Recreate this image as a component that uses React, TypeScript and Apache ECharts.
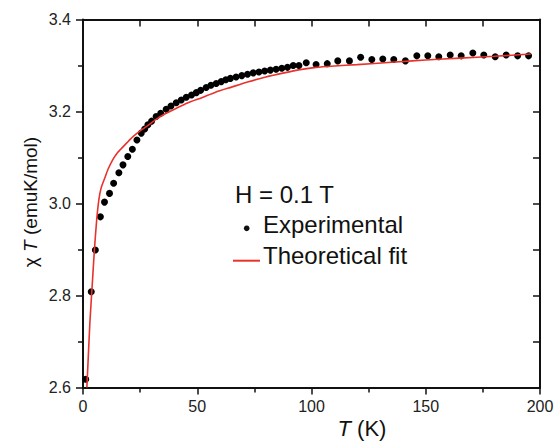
import React, { useEffect, useRef } from "react";
import * as echarts from "echarts";

const FONT = "'Liberation Sans', Arial, sans-serif";

// Experimental data: temperature (K) and chiT (emu K / mol)
const tempExp = [1.2, 3.6, 5.4, 7.6, 9.4, 11.6, 13.4, 15.7, 17.5, 19.6, 21.6, 23.6, 25.5, 27, 28.4, 30, 32, 34, 36.4, 38.5, 40.8, 43, 45.2, 47.5, 49.6, 51.5, 53.9, 56, 58.3, 60.5, 62.5, 64.5, 67, 69.5, 72, 74.5, 77, 79.5, 82, 84.5, 87, 89.5, 92, 94.5, 97.7, 102, 106.9, 111.5, 116.6, 121.5, 126.4, 131.2, 136, 141.1, 146.1, 150.9, 155.7, 160.7, 165.5, 170.6, 175.4, 180.4, 185.2, 190.2, 195];
const chiTExp = [2.618, 2.808, 2.899, 2.971, 3.003, 3.022, 3.044, 3.067, 3.084, 3.102, 3.118, 3.138, 3.153, 3.162, 3.171, 3.179, 3.189, 3.196, 3.205, 3.212, 3.219, 3.225, 3.231, 3.236, 3.241, 3.246, 3.252, 3.257, 3.261, 3.265, 3.269, 3.272, 3.275, 3.278, 3.281, 3.284, 3.286, 3.288, 3.290, 3.292, 3.294, 3.296, 3.300, 3.300, 3.306, 3.302, 3.304, 3.310, 3.310, 3.318, 3.313, 3.314, 3.313, 3.310, 3.321, 3.321, 3.319, 3.323, 3.321, 3.327, 3.323, 3.319, 3.323, 3.321, 3.321];

// Theoretical fit
const tempFit = [1.7, 3, 4, 5, 6, 7, 8, 9.5, 11, 13, 15, 17.5, 20, 22, 25, 28, 32, 36, 40, 46, 52, 58, 65, 72, 80, 88, 95, 102, 110, 120, 135, 150, 165, 180, 196];
const chiTFit = [2.6, 2.74, 2.82, 2.9, 2.965, 3.01, 3.035, 3.055, 3.075, 3.095, 3.11, 3.123, 3.136, 3.146, 3.158, 3.168, 3.183, 3.195, 3.205, 3.219, 3.23, 3.242, 3.253, 3.264, 3.275, 3.284, 3.291, 3.296, 3.299, 3.302, 3.307, 3.312, 3.316, 3.32, 3.325];

const seriesNames = ["Experimental", "Theoretical fit"];
const fieldLabel = "H = 0.1 T";

export default function App() {
  const ref = useRef<HTMLDivElement>(null);
  useEffect(() => {
    if (!ref.current) return;
    const chart = echarts.init(ref.current, undefined, { renderer: "svg" });
    const axisLine = { show: true, onZero: false, lineStyle: { color: "#111", width: 2 } };
    const tickStyle = { color: "#111", width: 1.5 };
    chart.setOption({
      animation: false,
      backgroundColor: "#ffffff",
      grid: { left: 83, right: 17, top: 19.5, bottom: 55.5 },
      xAxis: [
        {
          type: "value", min: 0, max: 200, interval: 50, position: "bottom",
          axisLine, axisTick: { show: true, inside: false, length: 7, lineStyle: tickStyle },
          minorTick: { show: true, splitNumber: 2, length: 5, lineStyle: tickStyle },
          axisLabel: { margin: 11, color: "#222", fontSize: 16, fontFamily: FONT },
          splitLine: { show: false },
        },
        {
          type: "value", min: 0, max: 200, interval: 25, position: "top",
          axisLine, axisTick: { show: true, inside: true, length: 7, lineStyle: tickStyle },
          axisLabel: { show: false }, splitLine: { show: false },
        },
      ],
      yAxis: [
        {
          type: "value", min: 2.6, max: 3.4, interval: 0.2, position: "left",
          axisLine, axisTick: { show: true, inside: false, length: 7, lineStyle: tickStyle },
          minorTick: { show: true, splitNumber: 2, length: 5, lineStyle: tickStyle },
          axisLabel: { margin: 12, color: "#222", fontSize: 16, fontFamily: FONT, formatter: (v: number) => v.toFixed(1) },
          splitLine: { show: false },
        },
        {
          type: "value", min: 2.6, max: 3.4, interval: 0.1, position: "right",
          axisLine, axisTick: { show: true, inside: true, length: 7, lineStyle: tickStyle },
          axisLabel: { show: false }, splitLine: { show: false },
        },
      ],
      series: [
        {
          name: seriesNames[0], type: "scatter", xAxisIndex: 0, yAxisIndex: 0,
          data: tempExp.map((t, i) => [t, chiTExp[i]]),
          symbolSize: 7, itemStyle: { color: "#000", opacity: 1 },
        },
        {
          name: seriesNames[1], type: "line", xAxisIndex: 0, yAxisIndex: 0,
          data: tempFit.map((t, i) => [t, chiTFit[i]]),
          showSymbol: false, smooth: 0.2,
          lineStyle: { color: "#e8322b", width: 1.6 },
          z: 3,
        },
      ],
      graphic: [
        { type: "text", x: 235, y: 194.5, style: { text: fieldLabel, fontSize: 24, fontFamily: FONT, fill: "#111", verticalAlign: "middle", align: "left" } },
        { type: "circle", shape: { cx: 246.7, cy: 228.3, r: 2.8 }, style: { fill: "#111" } },
        { type: "text", x: 263, y: 224.5, style: { text: seriesNames[0], fontSize: 24, fontFamily: FONT, fill: "#111", verticalAlign: "middle", align: "left" } },
        { type: "line", shape: { x1: 233, y1: 260.7, x2: 260, y2: 260.7 }, style: { stroke: "#e8322b", lineWidth: 2 } },
        { type: "text", x: 263, y: 255, style: { text: seriesNames[1], fontSize: 24, fontFamily: FONT, fill: "#111", verticalAlign: "middle", align: "left" } },
        {
          type: "text", x: 362, y: 428.5,
          style: {
            text: "{i|T}{n| (K)}", align: "center", verticalAlign: "middle",
            rich: { i: { fontSize: 22, fontStyle: "italic", fontFamily: FONT, fill: "#111" }, n: { fontSize: 22, fontFamily: FONT, fill: "#111" } },
          },
        },
        {
          type: "text", x: 30, y: 202, rotation: Math.PI / 2,
          style: {
            text: "{n|χ }{i|T}{n| (emuK/mol)}", align: "center", verticalAlign: "middle",
            rich: { i: { fontSize: 19, fontStyle: "italic", fontFamily: FONT, fill: "#111" }, n: { fontSize: 19, fontFamily: FONT, fill: "#111" } },
          },
        },
      ],
    });
    return () => chart.dispose();
  }, []);
  return <div ref={ref} style={{ position: "fixed", left: 0, top: 0, width: 557, height: 443 }} />;
}
